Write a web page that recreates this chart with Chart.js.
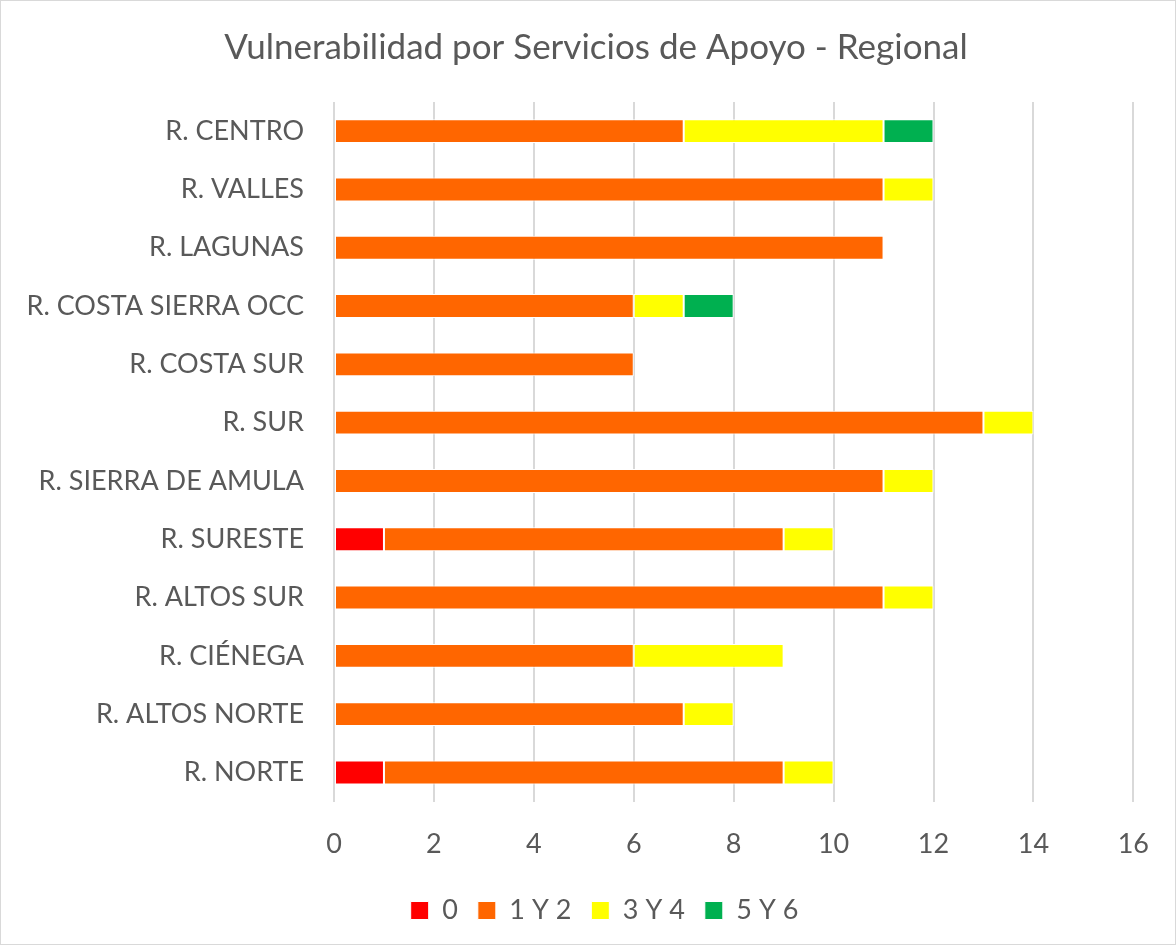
<!DOCTYPE html>
<html lang="es">
<head>
  <meta charset="UTF-8" />
  <title>Vulnerabilidad por Servicios de Apoyo - Regional</title>
  <script src="https://cdn.jsdelivr.net/npm/chart.js@4.4.0/dist/chart.umd.min.js"></script>
  <style>
    body { margin: 0; background: #fff; }
    #wrap {
      position: relative; width: 1176px; height: 945px;
      box-sizing: border-box; border: 1px solid #d9d9d9;
    }
    canvas { display: block; }
  </style>
</head>
<body>
  <div id="wrap"><canvas id="chart" width="1174" height="943"></canvas></div>
  <script>
    const chartTitle = 'Vulnerabilidad por Servicios de Apoyo - Regional';
    const regions = [
      'R. CENTRO', 'R. VALLES', 'R. LAGUNAS', 'R. COSTA SIERRA OCC', 'R. COSTA SUR',
      'R. SUR', 'R. SIERRA DE AMULA', 'R. SURESTE', 'R. ALTOS SUR', 'R. CIÉNEGA',
      'R. ALTOS NORTE', 'R. NORTE'
    ];
    const cero     = [0, 0, 0, 0, 0, 0, 0, 1, 0, 0, 0, 1];
    const unoYdos  = [7, 11, 11, 6, 6, 13, 11, 8, 11, 6, 7, 8];
    const tresYcua = [4, 1, 0, 1, 0, 1, 1, 1, 1, 3, 1, 1];
    const cincoYs  = [1, 0, 0, 1, 0, 0, 0, 0, 0, 0, 0, 0];

    const fontFam = 'Lato, "Open Sans", sans-serif';
    const grey = '#595959';

    function ds(label, data, color) {
      return {
        label, data, backgroundColor: color,
        borderColor: '#ffffff', borderWidth: 1, borderSkipped: false,
        barPercentage: 0.41, categoryPercentage: 1.0
      };
    }

    // title drawn by hand so it can sit a bit right of the canvas centre, like the original
    const titlePlugin = {
      id: 'ownTitle',
      afterLayout(chart) {
        // nudge the legend up and to the right, closer to where excel put it
        const lg = chart.legend;
        lg.top -= 9;
        lg.bottom -= 9;
        lg.left += 34;
        lg.right += 34;
      },
      afterDraw(chart) {
        const ctx = chart.ctx;
        ctx.save();
        ctx.font = '35px ' + fontFam;
        ctx.fillStyle = grey;
        ctx.textAlign = 'center';
        ctx.textBaseline = 'middle';
        ctx.fillText(chartTitle, 595, 47);
        ctx.restore();
      }
    };

    new Chart(document.getElementById('chart'), {
      type: 'bar',
      data: {
        labels: regions,
        datasets: [
          ds('0', cero, '#ff0000'),
          ds('1 Y 2', unoYdos, '#ff6600'),
          ds('3 Y 4', tresYcua, '#ffff00'),
          ds('5 Y 6', cincoYs, '#00b050')
        ]
      },
      plugins: [titlePlugin],
      options: {
        indexAxis: 'y',
        responsive: false,
        animation: false,
        devicePixelRatio: 1,
        layout: { padding: { left: 0, right: 35, top: 101, bottom: 1 } },
        plugins: {
          title: { display: false },
          legend: {
            position: 'bottom',
            labels: {
              color: grey, boxWidth: 18, boxHeight: 18, padding: 20,
              font: { family: fontFam, size: 27 }
            }
          },
          tooltip: { enabled: false }
        },
        scales: {
          x: {
            stacked: true, min: 0, max: 16,
            ticks: { stepSize: 2, color: grey, padding: 26, font: { family: fontFam, size: 27 } },
            grid: { color: '#d9d9d9', lineWidth: 2, drawTicks: false },
            border: { display: false }
          },
          y: {
            stacked: true,
            ticks: { color: grey, padding: 30, font: { family: fontFam, size: 27 } },
            grid: { display: false, drawTicks: false },
            border: { display: false },
            afterFit: (s) => { s.width = 333; }
          }
        }
      }
    });
  </script>
</body>
</html>
